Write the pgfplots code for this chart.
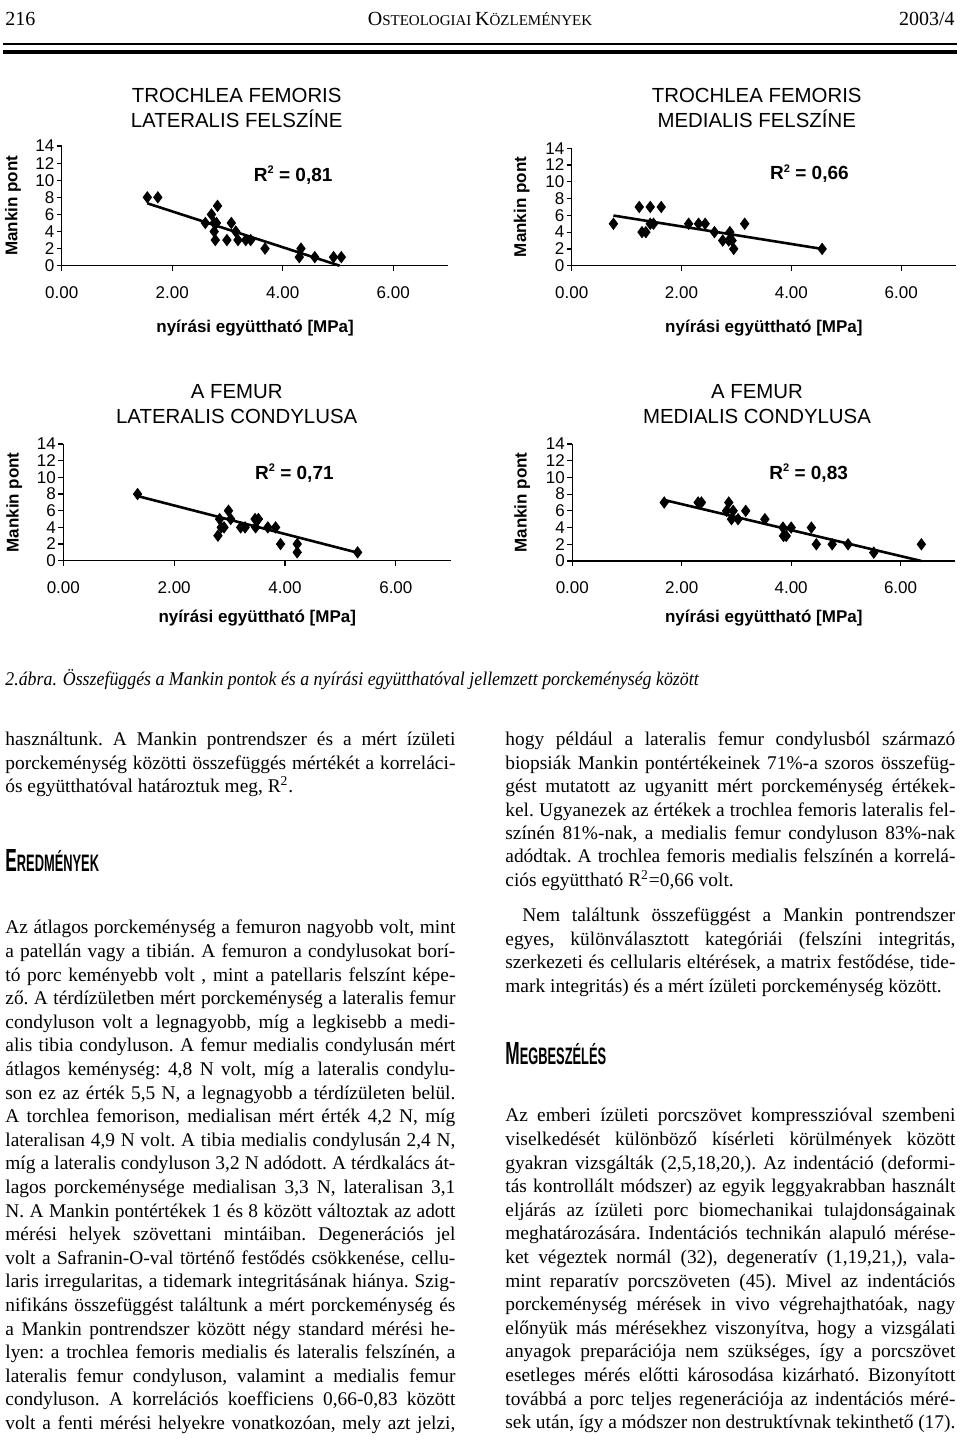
\documentclass[border=0pt]{standalone}
\usepackage{fontspec}
\usepackage{graphicx}
\usepackage{pgfplots}
\pgfplotsset{compat=1.18}
\setmainfont{Liberation Serif}
\newfontfamily\chartfont{Liberation Sans}
\newdimen\colw \colw=225pt
\def\jl#1{\hbox to\colw{#1}}
\def\ll#1{\hbox to\colw{#1\hfil}}
\newcommand\bodyfont{\fontsize{9.7}{11.8}\selectfont\frenchspacing\spaceskip=.25em plus .8em minus .13em\relax}
\newcommand\Rsq{R\raisebox{0.75ex}{\fontsize{5.5}{6}\selectfont 2}}
\pgfplotsset{mankin/.style={
  scale only axis, xmin=0, xmax=7, ymin=0, ymax=14,
  enlargelimits=false, clip=false,
  axis lines=left, axis line style={line width=0.7pt,-},
  xtick={0,2,4,6}, xticklabels={0.00,2.00,4.00,6.00},
  ytick={0,2,4,6,8,10,12,14},
  tick align=outside, major tick length=2.5pt,
  tick style={line width=0.6pt,black},
  /pgf/number format/assume math mode=true,
  ticklabel style={font=\chartfont\fontsize{8.5}{10}\selectfont},
  xticklabel style={yshift=-4.5pt},
  yticklabel style={inner sep=1pt},
  label style={font=\chartfont\bfseries\fontsize{8.5}{10}\selectfont},
  xlabel={nyírási együttható [MPa]},
  ylabel={Mankin pont},
  xlabel style={anchor=center},
  ylabel style={anchor=center},
}}
\pgfplotsset{pts/.style={only marks, mark=diamond*, mark size=2.8pt, black, mark options={fill=black}}}
\pgfplotsset{fit/.style={no marks, black, line width=1.3pt}}
\begin{document}
\begin{tikzpicture}
\useasboundingbox (0,0) rectangle (480pt,720pt);
% header
\node[anchor=base west, inner sep=0] at (2.5pt,707pt) {\fontsize{10}{12}\selectfont 216};
\node[anchor=base, inner sep=0] at (240pt,707pt) {\fontsize{10}{12}\selectfont O\fontsize{7.5}{9}\selectfont STEOLOGIAI \fontsize{10}{12}\selectfont K\fontsize{7.5}{9}\selectfont ÖZLEMÉNYEK};
\node[anchor=base east, inner sep=0] at (477.5pt,707pt) {\fontsize{10}{12}\selectfont 2003/4};
\draw[line width=1pt] (1.5pt,697.75pt) -- (478.5pt,697.75pt);
\draw[line width=2pt] (1.5pt,693.75pt) -- (478.5pt,693.75pt);

% titles
\node[font=\chartfont\fontsize{10.2}{12.5}\selectfont, align=center] at (118.35pt,666.25pt) {TROCHLEA FEMORIS\\LATERALIS FELSZÍNE};
\node[font=\chartfont\fontsize{10.2}{12.5}\selectfont, align=center] at (378.35pt,666.25pt) {TROCHLEA FEMORIS\\MEDIALIS FELSZÍNE};
\node[font=\chartfont\fontsize{10.2}{12.5}\selectfont, align=center] at (118.35pt,517.9pt) {A FEMUR\\LATERALIS CONDYLUSA};
\node[font=\chartfont\fontsize{10.2}{12.5}\selectfont, align=center] at (378.5pt,517.9pt) {A FEMUR\\MEDIALIS CONDYLUSA};

% plot 1
\begin{axis}[mankin, at={(30.85pt,587.15pt)}, anchor=south west, width=193.4pt, height=59.8pt,
  ylabel style={at={([xshift=-24.3pt]axis description cs:0,0.5)}},
  xlabel style={at={([yshift=-31pt]axis description cs:0.5,0)}}]
\addplot[pts] coordinates {(1.55,8) (1.74,8) (2.60,5) (2.71,6) (2.82,7) (2.76,5) (2.80,5) (2.76,4) (2.78,3) (2.99,3) (3.07,5) (3.15,4) (3.19,3) (3.33,3) (3.42,3) (3.68,2) (4.33,2) (4.30,1) (4.58,1) (4.92,1) (5.06,1)};
\addplot[fit] coordinates {(1.55,7.3) (5.03,0)};
\node[font=\chartfont\bfseries\fontsize{9.5}{11}\selectfont] at (axis cs:4.19,10.6) {\Rsq\ = 0,81};
\end{axis}

% plot 2
\begin{axis}[mankin, at={(285.85pt,587.15pt)}, anchor=south west, width=192.2pt, height=58.7pt,
  ylabel style={at={([xshift=-25pt]axis description cs:0,0.5)}},
  xlabel style={at={([yshift=-31pt]axis description cs:0.5,0)}}]
\addplot[pts] coordinates {(0.76,5) (1.23,7) (1.43,7) (1.63,7) (1.28,4) (1.35,4) (1.43,5) (1.49,5) (2.13,5) (2.31,5) (2.43,5) (2.60,4) (2.75,3) (2.88,4) (2.92,3) (2.95,2) (2.86,3) (3.15,5) (4.56,2)};
\addplot[fit] coordinates {(0.76,5.98) (4.56,2.0)};
\node[font=\chartfont\bfseries\fontsize{9.5}{11}\selectfont] at (axis cs:4.33,11.0) {\Rsq\ = 0,66};
\end{axis}

% plot 3
\begin{axis}[mankin, at={(31.65pt,439.65pt)}, anchor=south west, width=194pt, height=58.3pt,
  ylabel style={at={([xshift=-24.5pt]axis description cs:0,0.5)}},
  xlabel style={at={([yshift=-28.5pt]axis description cs:0.5,0)}}]
\addplot[pts] coordinates {(1.34,8) (2.82,5) (2.79,3) (2.85,4) (2.90,4) (2.98,6) (3.02,5) (3.20,4) (3.28,4) (3.46,5) (3.52,5) (3.47,4) (3.69,4) (3.83,4) (3.92,2) (4.22,2) (4.22,1) (5.31,1)};
\addplot[fit] coordinates {(1.34,7.76) (5.31,0.96)};
\node[font=\chartfont\bfseries\fontsize{9.5}{11}\selectfont] at (axis cs:4.17,10.5) {\Rsq\ = 0,71};
\end{axis}

% plot 4
\begin{axis}[mankin, at={(286.15pt,439.5pt)}, anchor=south west, width=191.5pt, height=58.5pt,
  ylabel style={at={([xshift=-25pt]axis description cs:0,0.5)}},
  xlabel style={at={([yshift=-28.5pt]axis description cs:0.5,0)}}]
\addplot[pts] coordinates {(1.68,7) (2.30,7) (2.36,7) (2.86,7) (2.82,6) (2.94,6) (2.91,5) (3.03,5) (3.17,6) (3.52,5) (3.85,4) (3.86,3) (3.91,3) (4.00,4) (4.37,4) (4.46,2) (4.75,2) (5.04,2) (5.51,1) (6.38,2)};
\addplot[fit] coordinates {(1.68,7.3) (6.38,0)};
\node[font=\chartfont\bfseries\fontsize{9.5}{11}\selectfont] at (axis cs:4.32,10.5) {\Rsq\ = 0,83};
\end{axis}

% caption
\node[anchor=base west, inner sep=0] at (2.5pt,377pt) {\scalebox{0.92}[1]{\fontsize{9.7}{11}\selectfont\itshape 2.ábra. Összefüggés a Mankin pontok és a nyírási együtthatóval jellemzett porckeménység között}};

% headings
\node[anchor=base west, inner sep=0] at (2.5pt,284pt) {\scalebox{0.54}[1]{\chartfont\bfseries\fontsize{16}{16}\selectfont E\fontsize{11.9}{12}\selectfont REDMÉNYEK}};
\node[anchor=base west, inner sep=0] at (252.5pt,187.5pt) {\scalebox{0.54}[1]{\chartfont\bfseries\fontsize{16}{16}\selectfont M\fontsize{11.9}{12}\selectfont EGBESZÉLÉS}};

% left column
\node[anchor=base west, inner sep=0] at (2.5pt,347pt) {\bodyfont\vtop{\baselineskip=11.75pt\lineskiplimit=-\maxdimen
\jl{használtunk. A Mankin pontrendszer és a mért ízületi}
\jl{porckeménység közötti összefüggés mértékét a korreláci-}
\ll{ós együtthatóval határoztuk meg, R\textsuperscript{2}.}}};

\node[anchor=base west, inner sep=0] at (2.5pt,253pt) {\bodyfont\vtop{\baselineskip=11.8pt\lineskiplimit=-\maxdimen
\jl{Az átlagos porckeménység a femuron nagyobb volt, mint}
\jl{a patellán vagy a tibián. A femuron a condylusokat borí-}
\jl{tó porc keményebb volt , mint a patellaris felszínt képe-}
\jl{ző. A térdízületben mért porckeménység a lateralis femur}
\jl{condyluson volt a legnagyobb, míg a legkisebb a medi-}
\jl{alis tibia condyluson. A femur medialis condylusán mért}
\jl{átlagos keménység: 4,8 N volt, míg a lateralis condylu-}
\jl{son ez az érték 5,5 N, a legnagyobb a térdízületen belül.}
\jl{A torchlea femorison, medialisan mért érték 4,2 N, míg}
\jl{lateralisan 4,9 N volt. A tibia medialis condylusán 2,4 N,}
\jl{míg a lateralis condyluson 3,2 N adódott. A térdkalács át-}
\jl{lagos porckeménysége medialisan 3,3 N, lateralisan 3,1}
\jl{N. A Mankin pontértékek 1 és 8 között változtak az adott}
\jl{mérési helyek szövettani mintáiban. Degenerációs jel}
\jl{volt a Safranin-O-val történő festődés csökkenése, cellu-}
\jl{laris irregularitas, a tidemark integritásának hiánya. Szig-}
\jl{nifikáns összefüggést találtunk a mért porckeménység és}
\jl{a Mankin pontrendszer között négy standard mérési he-}
\jl{lyen: a trochlea femoris medialis és lateralis felszínén, a}
\jl{lateralis femur condyluson, valamint a medialis femur}
\jl{condyluson. A korrelációs koefficiens 0,66-0,83 között}
\jl{volt a fenti mérési helyekre vonatkozóan, mely azt jelzi,}}};

% right column
\node[anchor=base west, inner sep=0] at (252.5pt,347pt) {\bodyfont\vtop{\baselineskip=11.7pt\lineskiplimit=-\maxdimen
\jl{hogy például a lateralis femur condylusból származó}
\jl{biopsiák Mankin pontértékeinek 71\%-a szoros összefüg-}
\jl{gést mutatott az ugyanitt mért porckeménység értékek-}
\jl{kel. Ugyanezek az értékek a trochlea femoris lateralis fel-}
\jl{színén 81\%-nak, a medialis femur condyluson 83\%-nak}
\jl{adódtak. A trochlea femoris medialis felszínén a korrelá-}
\ll{ciós együttható R\textsuperscript{2}=0,66 volt.}}};

\node[anchor=base west, inner sep=0] at (252.5pt,259pt) {\bodyfont\vtop{\baselineskip=11.75pt\lineskiplimit=-\maxdimen
\jl{\hskip 8.5pt Nem találtunk összefüggést a Mankin pontrendszer}
\jl{egyes, különválasztott kategóriái (felszíni integritás,}
\jl{szerkezeti és cellularis eltérések, a matrix festődése, tide-}
\ll{mark integritás) és a mért ízületi porckeménység között.}}};

\node[anchor=base west, inner sep=0] at (252.5pt,159pt) {\bodyfont\vtop{\baselineskip=11.8pt\lineskiplimit=-\maxdimen
\jl{Az emberi ízületi porcszövet kompresszióval szembeni}
\jl{viselkedését különböző kísérleti körülmények között}
\jl{gyakran vizsgálták (2,5,18,20,). Az indentáció (deformi-}
\jl{tás kontrollált módszer) az egyik leggyakrabban használt}
\jl{eljárás az ízületi porc biomechanikai tulajdonságainak}
\jl{meghatározására. Indentációs technikán alapuló mérése-}
\jl{ket végeztek normál (32), degeneratív (1,19,21,), vala-}
\jl{mint reparatív porcszöveten (45). Mivel az indentációs}
\jl{porckeménység mérések in vivo végrehajthatóak, nagy}
\jl{előnyük más mérésekhez viszonyítva, hogy a vizsgálati}
\jl{anyagok preparációja nem szükséges, így a porcszövet}
\jl{esetleges mérés előtti károsodása kizárható. Bizonyított}
\jl{továbbá a porc teljes regenerációja az indentációs méré-}
\jl{sek után, így a módszer non destruktívnak tekinthető (17).}}};
\end{tikzpicture}
\end{document}
